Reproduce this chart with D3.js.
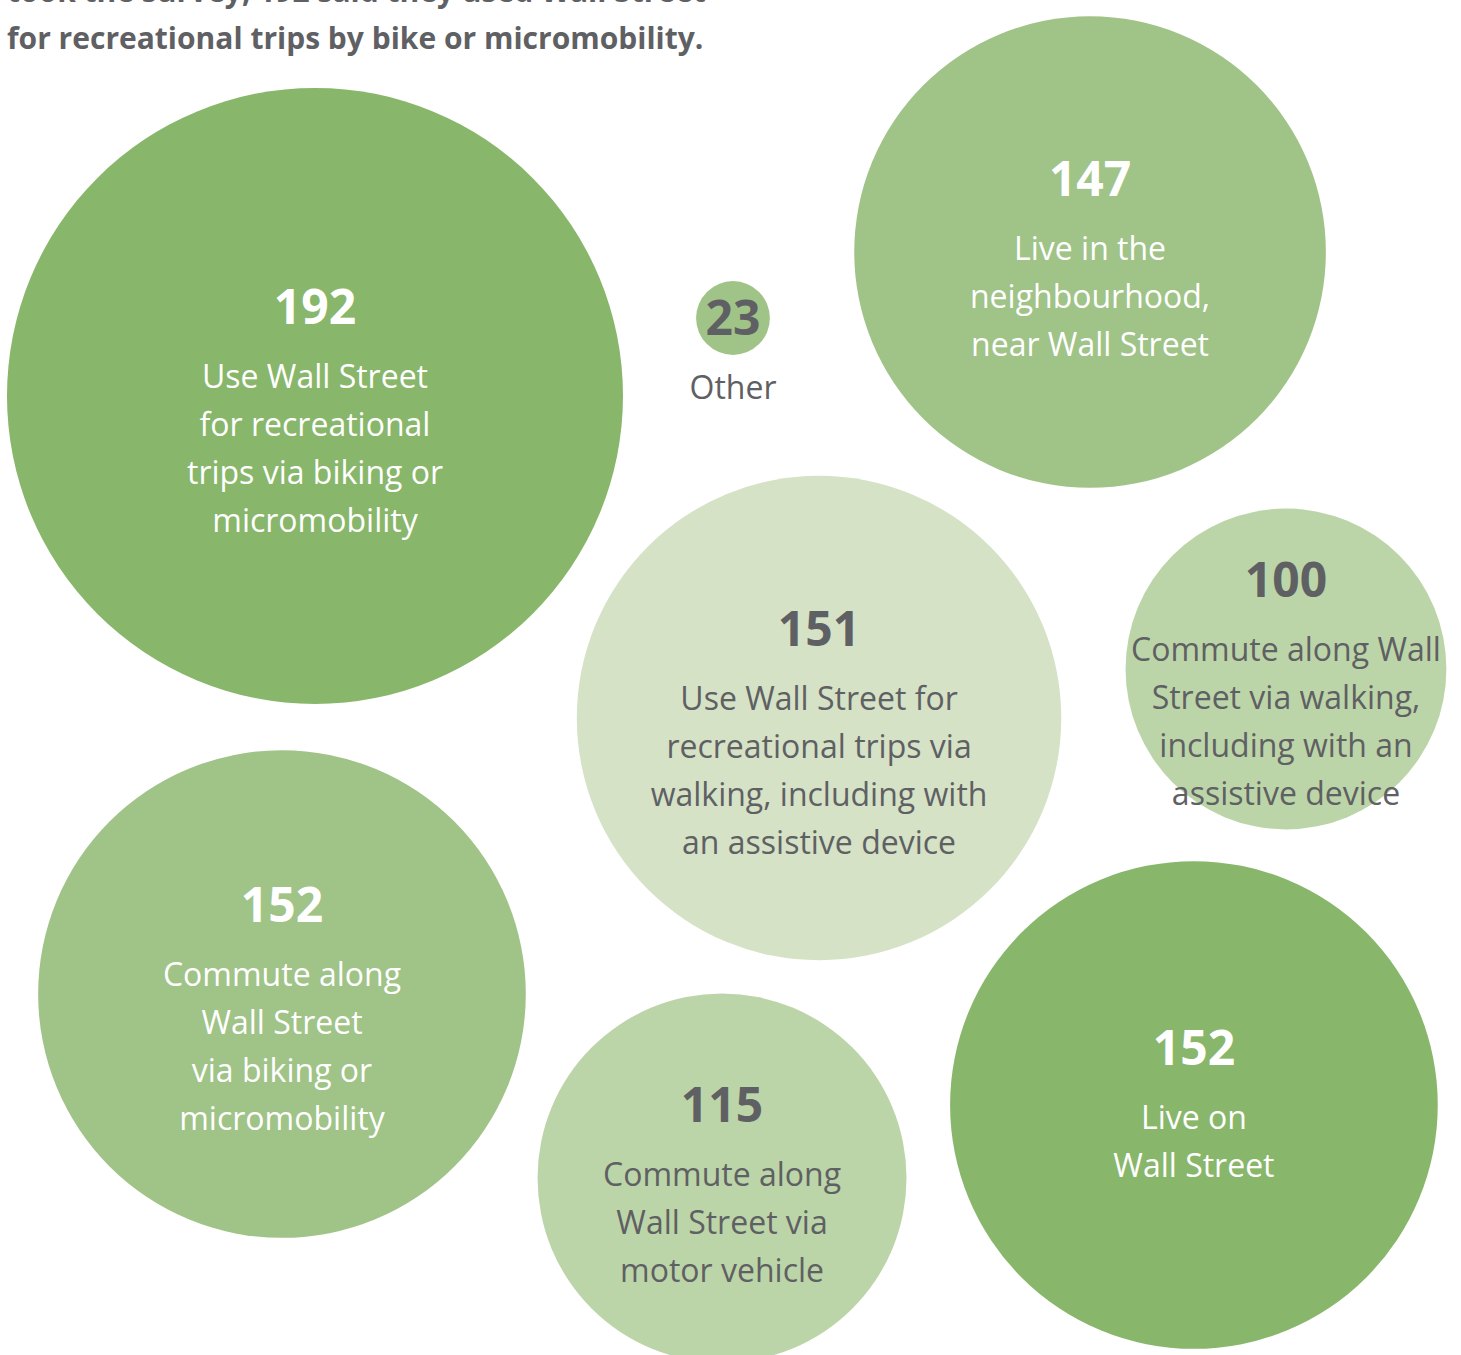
<!DOCTYPE html>
<html>
<head>
<meta charset="utf-8">
<script src="https://cdn.jsdelivr.net/npm/d3@7"></script>
<style>
  html, body { margin: 0; padding: 0; background: #fff; }
  svg { display: block; }
</style>
</head>
<body>
<div id="chart"></div>
<script>
// survey answers
const values = [192, 23, 147, 151, 100, 152, 115, 152];
const labels = [
  ['Use Wall Street', 'for recreational', 'trips via biking or', 'micromobility'],
  ['Other'],
  ['Live in the', 'neighbourhood,', 'near Wall Street'],
  ['Use Wall Street for', 'recreational trips via', 'walking, including with', 'an assistive device'],
  ['Commute along Wall', 'Street via walking,', 'including with an', 'assistive device'],
  ['Commute along', 'Wall Street', 'via biking or', 'micromobility'],
  ['Commute along', 'Wall Street via', 'motor vehicle'],
  ['Live on', 'Wall Street']
];
const shades = ['dark', 'mid', 'mid', 'pale', 'light', 'mid', 'light', 'dark'];
const headerLines = [
  'took the survey, 192 said they used Wall Street',
  'for recreational trips by bike or micromobility.'
];

// where each bubble sits, in 0..1 of the drawing area
const layout = [
  [0.2156, 0.2922], [0.5017, 0.2347], [0.7461, 0.1860], [0.5606, 0.5299],
  [0.8802, 0.4937], [0.1930, 0.7336], [0.4942, 0.8694], [0.8172, 0.8155]
];

const width = 1461, height = 1355;
const x = d3.scaleLinear().domain([0, 1]).range([0, width]);
const y = d3.scaleLinear().domain([0, 1]).range([0, height]);
const r = d3.scaleLinear().domain([0, 192]).range([0, 308]);
const color = d3.scaleOrdinal()
  .domain(['dark', 'mid', 'light', 'pale'])
  .range(['#88b66a', '#a0c387', '#bcd5a8', '#d5e2c6']);
const textColor = d => (d.shade === 'dark' || (d.shade === 'mid' && d.value > 50)) ? '#ffffff' : '#5f6063';

const data = values.map((v, i) => ({
  value: v, lines: labels[i], shade: shades[i], cx: x(layout[i][0]), cy: y(layout[i][1])
}));

const svg = d3.select('#chart').append('svg')
  .attr('width', width).attr('height', height)
  .style('font-family', '"Open Sans", "Noto Sans", sans-serif');

svg.append('g').selectAll('text').data(headerLines).join('text')
  .attr('x', 7)
  .attr('y', (d, i) => 2 + i * 47)
  .attr('fill', '#5f6063')
  .attr('font-size', 30)
  .attr('font-weight', 700)
  .text(d => d);

const node = svg.append('g').selectAll('g').data(data).join('g')
  .attr('transform', d => `translate(${d.cx},${d.cy})`);

node.append('circle')
  .attr('r', d => r(d.value))
  .attr('fill', d => color(d.shade));

node.each(function(d) {
  const g = d3.select(this);
  const small = r(d.value) < 60;
  const n = d.lines.length;
  const numY = small ? 17 : -8 - 16 * n;

  g.append('text')
    .attr('text-anchor', 'middle')
    .attr('y', numY)
    .attr('font-size', 48)
    .attr('font-weight', 700)
    .attr('fill', textColor(d))
    .text(d.value);

  g.append('g').selectAll('text').data(d.lines).join('text')
    .attr('text-anchor', 'middle')
    .attr('y', (t, i) => numY + 64 + i * 48)
    .attr('font-size', 32)
    .attr('fill', textColor(d))
    .text(t => t);
});
</script>
</body>
</html>
